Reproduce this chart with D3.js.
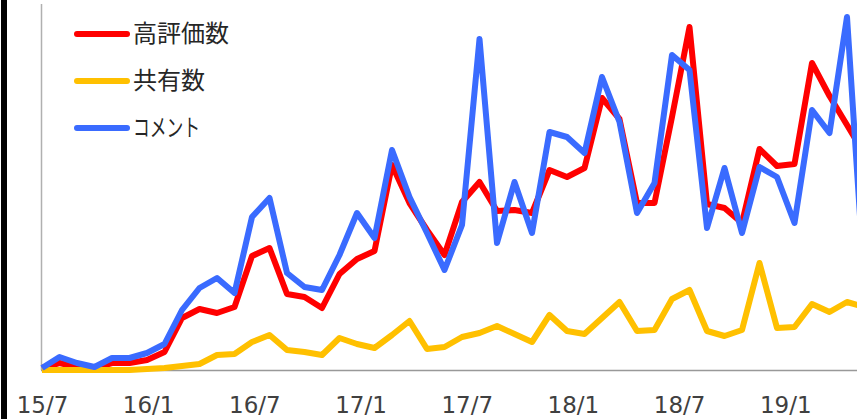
<!DOCTYPE html>
<html>
<head>
<meta charset="utf-8">
<script src="https://d3js.org/d3.v7.min.js"></script>
<style>
  body { margin: 0; background: #fff; }
  svg { display: block; }
</style>
</head>
<body>
<svg width="857" height="419"></svg>
<script>
// monthly values, 2015/07 onward (48 months)
var months = d3.range(48);
var tickLabels = ["15/7", "16/1", "16/7", "17/1", "17/7", "18/1", "18/7", "19/1"];
var tickMonths = [0, 6, 12, 18, 24, 30, 36, 42];

var likes = [2,7,3,2,7,7,10,18,52,61,57,63,114,122,76,73,62,96,111,119,205,167,140,115,168,188,159,160,157,200,193,202,272,251,167,167,253,343,166,162,147,221,204,206,307,274,245,216];
var shares = [0,0,0,0,0,0,1,2,4,6,15,16,28,35,20,18,15,32,26,22,35,49,21,23,33,37,44,36,28,55,39,36,52,68,39,40,71,80,39,34,40,107,42,43,66,58,68,63];
var comments = [2,13,7,3,12,12,17,26,60,82,92,77,153,172,97,83,80,115,157,132,220,173,137,100,145,331,127,188,137,238,233,217,293,248,157,187,315,300,142,202,137,203,193,147,260,237,353,85];

var seriesNames = ["高評価数", "共有数", "コメント"];
var seriesColors = ["#ff0000", "#ffc000", "#3a6bff"];
var seriesData = [likes, shares, comments];

var svg = d3.select("svg");

var x = d3.scaleLinear().domain([0, 47]).range([42, 864.5]);
var xTick = d3.scaleLinear().domain([0, 42]).range([42.5, 785.8]);
var y = d3.scaleLinear().domain([0, 366]).range([370, 4]);

// left black frame edge
svg.append("rect").attr("x", 1).attr("y", 0).attr("width", 6).attr("height", 419).attr("fill", "#000");

// axes lines
svg.append("line").attr("x1", 41.5).attr("x2", 41.5).attr("y1", y(366)).attr("y2", y(0))
  .attr("stroke", "#b0b0b0").attr("stroke-width", 1.5);
svg.append("line").attr("x1", 41).attr("x2", 857).attr("y1", y(0) + 0.5).attr("y2", y(0) + 0.5)
  .attr("stroke", "#999").attr("stroke-width", 1.5);

// tick labels
svg.append("g").selectAll("text")
  .data(tickMonths)
  .enter()
  .append("text")
  .attr("x", function(d) { return xTick(d); })
  .attr("y", 413)
  .attr("text-anchor", "middle")
  .style("font-family", "DejaVu Sans, Verdana, sans-serif")
  .style("font-size", "23px")
  .style("fill", "#404040")
  .text(function(d, i) { return tickLabels[i]; });

var line = d3.line()
  .x(function(d, i) { return x(i); })
  .y(function(d) { return y(d); });

seriesData.forEach(function(vals, k) {
  svg.append("path")
    .datum(vals)
    .attr("d", line)
    .attr("fill", "none")
    .attr("stroke", seriesColors[k])
    .attr("stroke-width", 6)
    .attr("stroke-linejoin", "round");
});

// legend
var legend = svg.append("g");
seriesNames.forEach(function(name, k) {
  var ly = 34 + k * 47;
  legend.append("line")
    .attr("x1", 77).attr("x2", 127).attr("y1", ly).attr("y2", ly)
    .attr("stroke", seriesColors[k]).attr("stroke-width", 6)
    .attr("stroke-linecap", "round");
  var t = legend.append("text")
    .attr("x", 133).attr("y", ly + 8)
    .style("font-family", "Noto Sans CJK JP, sans-serif")
    .style("font-size", "24px")
    .style("fill", "#262626")
    .text(name);
  if (k == 2) t.attr("textLength", 67).attr("lengthAdjust", "spacingAndGlyphs");
});
</script>
</body>
</html>
